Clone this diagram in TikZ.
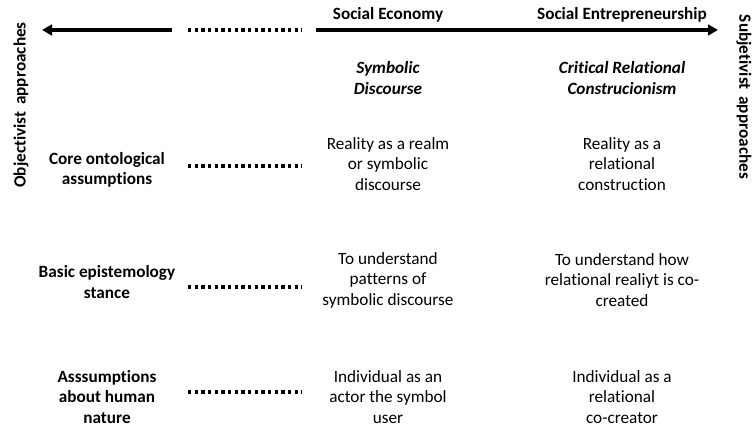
\documentclass[tikz,border=0pt]{standalone}
\usepackage{fontspec}
\setmainfont[Ligatures=NoCommon]{Carlito}
\usetikzlibrary{arrows.meta}
\begin{document}
\begin{tikzpicture}[x=0.75pt,y=-0.75pt,
  txt/.style={align=center,font=\fontsize{12.9}{15.4}\selectfont,inner sep=0pt},
  btxt/.style={txt,font=\fontsize{12.9}{15.4}\selectfont\bfseries},
  bitxt/.style={txt,font=\fontsize{12.9}{15.4}\selectfont\bfseries\itshape},
  axis/.style={line width=2.5pt,-{Triangle[length=7.5pt,width=8pt]}},
  dotline/.style={line width=2.6pt,dash pattern=on 2.5pt off 2.5pt}]
\useasboundingbox (0,0) rectangle (752,427);
% axis
\coordinate (lstart) at (172,30);
\coordinate (lend) at (42,30);
\coordinate (rstart) at (316,30);
\coordinate (rend) at (718,30);
\coordinate (dA) at (188,30);
\coordinate (dB) at (302,30);
\draw[axis] (lstart) -- (lend);
\draw[axis] (rstart) -- (rend);
\draw[dotline] (dA) -- (dB);
\node[btxt] (se) at (388,15) {Social Economy};
\node[btxt] (sen) at (622,15) {Social Entrepreneurship};
\node[btxt,rotate=90] (obj) at (21,105) {Objectivist\, approaches};
\node[btxt,rotate=-90] (subj) at (744,97) {Subjetivist\, approaches};
% headers
\node[bitxt] (sd) at (388,78) {Symbolic\\Discourse};
\node[bitxt] (crc) at (622,78) {Critical Relational\\Construcionism};
% row 1
\node[btxt] (l1) at (107,170) {Core ontological\\assumptions};
\coordinate (d1a) at (188,166);
\coordinate (d1b) at (302,166);
\draw[dotline] (d1a) -- (d1b);
\node[txt] (a1) at (388,164) {Reality as a realm\\or symbolic\\discourse};
\node[txt] (b1) at (622,164) {Reality as a\\relational\\construction};
% row 2
\node[btxt] (l2) at (107,282) {Basic epistemology\\stance};
\coordinate (d2a) at (188,287);
\coordinate (d2b) at (302,287);
\draw[dotline] (d2a) -- (d2b);
\node[txt] (a2) at (388,280) {To understand\\patterns of\\symbolic discourse};
\node[txt] (b2) at (622,280) {To understand how\\relational realiyt is co-\\created};
% row 3
\node[btxt] (l3) at (107,397) {Asssumptions\\about human\\nature};
\coordinate (d3a) at (188,392);
\coordinate (d3b) at (302,392);
\draw[dotline] (d3a) -- (d3b);
\node[txt] (a3) at (388,397) {Individual as an\\actor the symbol\\user};
\node[txt] (b3) at (622,397) {Individual as a\\relational\\co-creator};
\end{tikzpicture}
\end{document}
